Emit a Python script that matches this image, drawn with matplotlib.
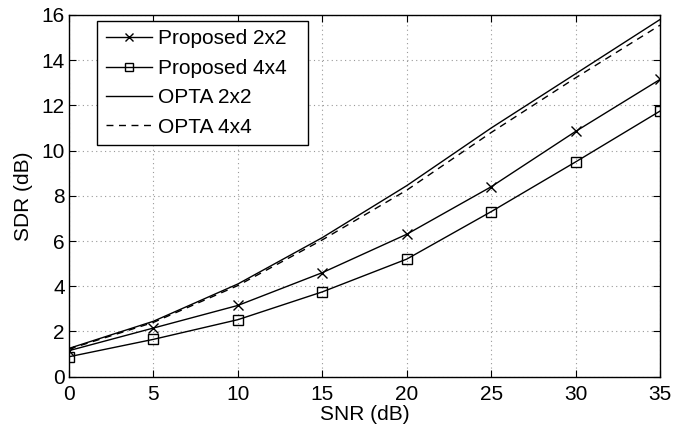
import numpy as np
import matplotlib.pyplot as plt

plt.rcParams['font.family'] = ['Liberation Sans', 'DejaVu Sans']

snr = [0, 5, 10, 15, 20, 25, 30, 35]
prop_2x2 = [1.15, 2.15, 3.15, 4.6, 6.3, 8.4, 10.85, 13.15]
prop_4x4 = [0.88, 1.65, 2.52, 3.75, 5.2, 7.3, 9.5, 11.75]
opta_2x2 = [1.25, 2.45, 4.1, 6.15, 8.45, 11.0, 13.4, 15.8]
opta_4x4 = [1.22, 2.4, 4.03, 6.05, 8.25, 10.8, 13.22, 15.55]

fig = plt.figure(figsize=(6.97, 4.28), dpi=100)
ax = fig.add_axes([0.099, 0.12, 0.848, 0.845])

ax.plot(snr, prop_2x2, color='k', lw=1, marker='x', ms=7, mew=1, label='Proposed 2x2')
ax.plot(snr, prop_4x4, color='k', lw=1, marker='s', ms=7, mew=1, mfc='none', label='Proposed 4x4')
ax.plot(snr, opta_2x2, color='k', lw=1, label='OPTA 2x2')
ax.plot(snr, opta_4x4, color='k', lw=1, ls=(0, (5, 4)), label='OPTA 4x4')

ax.set_xlim(0, 35)
ax.set_ylim(0, 16)
ax.set_xticks(np.arange(0, 36, 5))
ax.set_yticks(np.arange(0, 17, 2))
ax.grid(True, ls=(0, (1, 3)), color='#999999', lw=0.8)
ax.tick_params(direction='in', top=True, right=True, labelsize=15, length=5)
ax.tick_params(axis='x', pad=6)
ax.tick_params(axis='y', pad=3)
for s in ax.spines.values():
    s.set_linewidth(1)

ax.set_xlabel('SNR (dB)', fontsize=15, labelpad=1)
ax.set_ylabel('SDR (dB)', fontsize=15, labelpad=6)

leg = ax.legend(loc='upper left', bbox_to_anchor=(0.048, 0.5, 0.357, 0.483), mode='expand',
                borderaxespad=0, fontsize=15, fancybox=False, edgecolor='k', framealpha=1,
                handlelength=2.2, handletextpad=0.3, labelspacing=0.5, borderpad=0.4,
                markerscale=0.9)
leg.get_frame().set_linewidth(1)

fig.savefig('out.png', dpi=100)
